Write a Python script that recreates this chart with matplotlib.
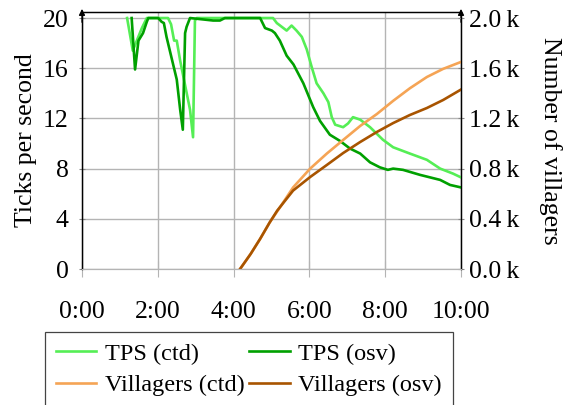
import matplotlib
matplotlib.use('Agg')
import matplotlib.pyplot as plt
from matplotlib.ticker import FuncFormatter

plt.rcParams['font.family'] = ['Liberation Serif', 'DejaVu Serif']

# ---- data (time in minutes) ----
tps_ctd_t = [1.19, 1.34, 1.58, 1.71, 2.27, 2.35, 2.43, 2.50, 2.59, 2.85, 2.93, 2.98, 3.03,
             3.6, 4.2, 4.6, 5.04, 5.14, 5.27, 5.40, 5.53, 5.66, 5.80, 5.93, 6.06, 6.19,
             6.37, 6.50, 6.59, 6.68, 6.89, 7.02, 7.15, 7.34, 7.60, 7.94, 8.21, 8.65,
             9.10, 9.45, 9.79, 10.0]
tps_ctd_v = [20, 17.4, 19.2, 20, 20, 19.5, 18.2, 18.2, 16.6, 12.7, 10.5, 19.8, 20,
             20, 20, 20, 20, 19.6, 19.3, 19.0, 19.4, 19.0, 18.5, 17.5, 16.1, 14.8,
             14.0, 13.3, 12.1, 11.5, 11.3, 11.6, 12.1, 11.9, 11.3, 10.3, 9.7, 9.2,
             8.7, 8.0, 7.6, 7.3]

tps_osv_t = [1.31, 1.40, 1.49, 1.61, 1.71, 1.75, 2.01, 2.10, 2.16, 2.23, 2.50, 2.59, 2.66,
             2.72, 2.76, 2.85, 3.46, 3.64, 3.77, 4.70, 4.83, 5.01, 5.09, 5.22, 5.40,
             5.58, 5.84, 6.10, 6.28, 6.54, 6.81, 7.07, 7.34, 7.60, 7.86, 8.07, 8.21,
             8.47, 8.92, 9.45, 9.71, 10.0]
tps_osv_v = [20, 15.9, 18.2, 18.8, 19.7, 20, 20, 19.7, 19.6, 18.5, 15.1, 12.7, 11.1,
             18.8, 19.3, 20, 19.8, 19.8, 20, 20, 19.2, 19.0, 18.8, 18.2, 17.0,
             16.3, 14.8, 12.9, 11.8, 10.7, 10.2, 9.6, 9.2, 8.5, 8.1, 7.9, 8.0,
             7.9, 7.5, 7.1, 6.7, 6.5]

vil_ctd_t = [4.17, 4.45, 4.70, 4.95, 5.22, 5.57, 6.02, 6.46, 6.89, 7.34, 7.78, 8.21, 8.65, 9.10, 9.53, 10.0]
vil_ctd_v = [0, 120, 240, 370, 490, 650, 800, 920, 1028, 1140, 1235, 1340, 1440, 1530, 1595, 1650]

vil_osv_t = [4.17, 4.45, 4.70, 4.95, 5.15, 5.57, 6.02, 6.46, 6.89, 7.34, 7.78, 8.21, 8.65, 9.10, 9.53, 10.0]
vil_osv_v = [0, 120, 240, 370, 465, 625, 733, 829, 924, 1012, 1092, 1163, 1227, 1283, 1347, 1430]

x_ticks = [0, 2, 4, 6, 8, 10]
x_labels = ['0:00', '2:00', '4:00', '6:00', '8:00', '10:00']
y_ticks = [0, 4, 8, 12, 16, 20]
y2_ticks = [0, 400, 800, 1200, 1600, 2000]

c_tps_ctd = '#55ee55'
c_tps_osv = '#00a000'
c_vil_ctd = '#f5a455'
c_vil_osv = '#a85400'

fs = 18.5
grid_c = '#b4b4b4'

fig = plt.figure(figsize=(5.71, 4.05), dpi=100)
ax = fig.add_axes([82/571, 1-269/405, (461-82)/571, (269-12)/405])
ax2 = ax.twinx()

lw = 1.9
l1, = ax.plot(tps_ctd_t, tps_ctd_v, color=c_tps_ctd, lw=lw, label='TPS (ctd)', zorder=3)
l2, = ax.plot(tps_osv_t, tps_osv_v, color=c_tps_osv, lw=lw, label='TPS (osv)', zorder=3)
l3, = ax2.plot(vil_ctd_t, vil_ctd_v, color=c_vil_ctd, lw=lw, label='Villagers (ctd)')
l4, = ax2.plot(vil_osv_t, vil_osv_v, color=c_vil_osv, lw=lw, label='Villagers (osv)')

ax.set_xlim(0, 10)
ax.set_ylim(0, 20.48)
ax2.set_ylim(0, 2048)

ax.set_xticks(x_ticks)
ax.set_xticklabels(x_labels, fontsize=fs)
ax.set_yticks(y_ticks)
ax.set_yticklabels([str(v) for v in y_ticks], fontsize=fs)
ax2.set_yticks(y2_ticks)
ax2.yaxis.set_major_formatter(FuncFormatter(lambda v, p: f'{v/1000:.1f}\u2009k'))
ax2.tick_params(axis='y', labelsize=fs, direction='inout', length=5, color='#888888', pad=3)
ax.tick_params(axis='y', direction='inout', length=5, color='#888888', pad=7)
ax.tick_params(axis='x', direction='inout', length=12, color=grid_c, pad=17)

ax.grid(True, color=grid_c, lw=1.0)
ax.set_axisbelow(True)

for a in (ax, ax2):
    a.spines['bottom'].set_color(grid_c)
    a.spines['top'].set_color('black')
    a.spines['top'].set_linewidth(0.9)
    a.spines['left'].set_linewidth(0.9)
    a.spines['right'].set_linewidth(0.9)

ax.set_ylabel('Ticks per second', fontsize=fs)
ax.yaxis.set_label_coords(-0.12, 0.5)
ax2.set_ylabel('Number of villagers', fontsize=fs, rotation=-90, va='center')
ax2.yaxis.set_label_coords(1.235, 0.5)

# arrow heads on the vertical axes
for xa in (0, 1):
    ax.annotate('', xy=(xa, 1.012), xytext=(xa, 0.96), xycoords='axes fraction',
                arrowprops=dict(arrowstyle='-|>', color='black', lw=0.9,
                                mutation_scale=9, shrinkA=0, shrinkB=0),
                annotation_clip=False)

leg = fig.legend(handles=[l1, l3, l2, l4], loc='upper center', ncol=2,
                 bbox_to_anchor=(249/571, 1-332/405), fontsize=17.5, frameon=True,
                 fancybox=False, edgecolor='#444444', framealpha=1,
                 handlelength=1.65, handletextpad=0.35, columnspacing=0.2,
                 labelspacing=0.38, borderpad=0.45, borderaxespad=0)
leg.get_frame().set_linewidth(0.9)

fig.savefig('out.png', dpi=100)
